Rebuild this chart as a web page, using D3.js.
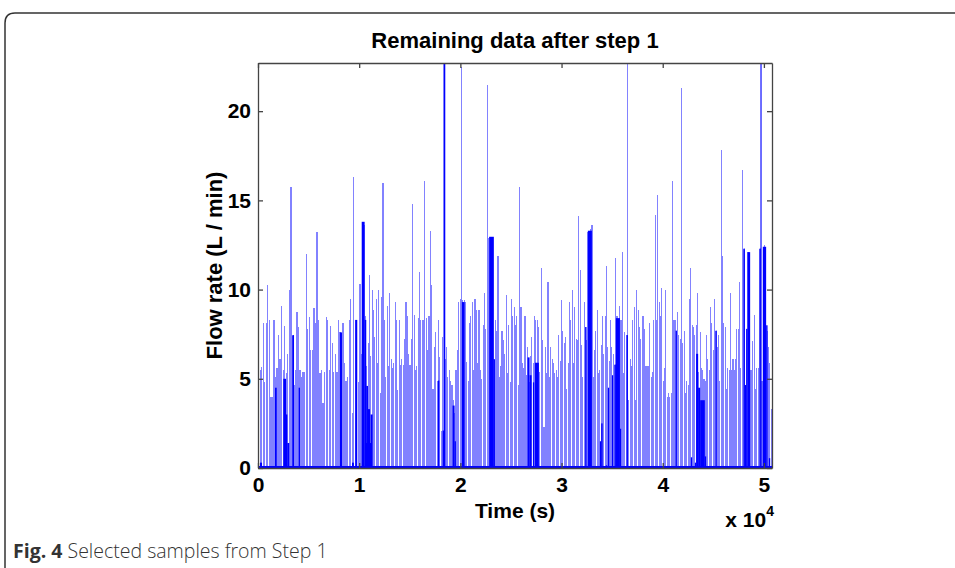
<!DOCTYPE html>
<html>
<head>
<meta charset="utf-8">
<script src="https://cdn.jsdelivr.net/npm/d3@7/dist/d3.min.js"></script>
<style>
  body { margin: 0; background: #fff; }
  svg { display: block; }
</style>
</head>
<body>
<div id="chart"></div>
<script>
// each block covers blockSpan seconds, samples spread evenly inside it
var blockSpan = 10160;
var flowBlock1 = [8.5, 5.5, 5.65, 8.1, 4.8, 8.1, 10.25, 8.3, 4.0, 4.0, 8.3, 5.1, 5.6, 7.45, 6.1, 9.1, 5.5, 7.95, 5.3, 6.4,
  10.0, 15.75, 7.4, 4.65, 5.5, 8.75, 7.9, 5.5, 5.1, 5.4, 5.4, 12.0, 7.8, 8.45, 6.6, 6.6, 8.95, 8.1, 13.2, 8.3,
  5.3, 5.5, 3.65, 5.4, 8.45, 8.3, 5.5, 7.95, 7.0, 5.4, 6.4, 5.4, 8.3, 7.6, 6.1, 8.1, 5.9, 4.9, 5.1, 8.3,
  9.5, 3.1, 16.3, 8.3, 5.6, 4.8, 10.3];
var flowBlock2 = [6.4, 13.8, 13.6, 8.5, 5.7, 7.0, 10.8, 6.3, 10.0, 8.85, 7.35, 9.5, 5.9, 10.0, 4.2, 9.6, 15.95, 8.3, 5.1, 9.1,
  5.7, 9.8, 6.1, 5.6, 5.9, 9.3, 8.3, 4.35, 8.3, 5.8, 6.1, 5.8, 7.25, 9.3, 8.5, 6.4, 5.8, 7.25, 14.8, 8.6,
  5.5, 5.7, 8.4, 11.0, 8.3, 8.3, 8.3, 16.1, 8.4, 6.6, 8.5, 13.3, 10.25, 4.45, 6.8, 7.6, 4.9, 8.3, 6.2, 2.1,
  7.35, 24, 6.1, 6.8, 5.1, 5.5, 4.85, 4.65, 3.8, 3.1, 5.5, 6.6, 9.3, 9.5, 22.5, 9.4];
var flowBlock3 = [9.4, 9.3, 5.95, 4.9, 8.1, 8.5, 9.3, 5.5, 9.5, 8.85, 5.9, 8.85, 5.5, 5.0, 8.0, 9.8, 7.8, 21.45, 12.9, 12.96,
  12.96, 12.96, 6.1, 8.3, 7.7, 11.9, 5.1, 5.7, 7.7, 7.2, 6.4, 9.7, 5.3, 8.0, 4.8, 9.5, 8.5, 9.0, 8.0, 8.5,
  4.65, 15.75, 9.0, 5.9, 5.6, 8.5, 5.2, 6.8, 4.8, 6.3, 7.35, 5.9, 8.5, 8.3, 8.3, 7.9, 5.4, 11.2, 7.2, 2.3,
  6.8, 5.3, 10.4, 5.1, 6.8, 6.1, 5.9, 5.3, 5.5, 5.1, 7.45, 6.0, 9.4, 7.7, 7.0, 7.35];
var flowBlock4 = [4.45, 5.9, 9.3, 8.3, 10.0, 5.9, 9.0, 7.25, 7.2, 14.1, 11.1, 6.9, 5.1, 9.3, 7.9, 7.2, 13.24, 13.24, 13.4, 13.6,
  5.1, 6.6, 7.7, 8.85, 5.3, 5.5, 6.9, 8.5, 6.4, 8.5, 11.3, 6.8, 6.0, 8.3, 6.8, 6.4, 5.8, 11.75, 8.5, 8.1,
  9.1, 8.3, 12.1, 5.3, 7.6, 7.45, 24, 3.8, 6.1, 5.7, 8.3, 9.0, 3.8, 10.0, 8.85, 7.9, 7.25, 8.5, 8.5, 7.8,
  5.7, 5.7, 5.7, 8.1, 5.1, 5.4, 8.3, 14.2, 8.3, 15.3, 9.3, 8.5, 10.1, 4.85, 5.6, 10.0, 4.0, 4.2];
var flowBlock5 = [4.0, 4.2, 16.1, 8.3, 8.3, 7.7, 8.75, 7.45, 7.25, 21.3, 7.0, 7.7, 4.2, 4.9, 4.65, 9.5, 11.2, 8.0, 7.9, 7.45,
  8.0, 9.8, 5.4, 7.6, 5.6, 5.5, 5.0, 4.9, 7.45, 6.1, 5.5, 9.0, 8.1, 6.6, 9.5, 7.7, 6.8, 7.45, 4.9, 17.8,
  11.9, 8.1, 7.9, 4.45, 5.6, 5.5, 9.8, 5.5, 6.1, 5.5, 6.1, 7.8, 7.8, 10.4, 5.6, 16.7, 12.3, 12.2, 7.8, 12.1,
  12.1, 5.5, 5.5, 7.1, 8.6, 4.45, 5.6, 5.6, 12.3, 24, 4.85, 12.4, 12.5, 8.0, 7.7, 6.8, 5.9, 3.3];

// dense stretches that print as solid blue (start s, end s, level)
var darkStart = [200, 1680, 2500, 2700, 2900, 3390, 4020, 8100, 9290, 9610, 10250, 10540, 10700, 10570, 10870, 11130,
  17780, 18250, 18380, 19230, 19430, 20150,
  22850, 23310, 26640, 26840, 27170, 27370,
  32340, 32600, 33790, 33920, 34380, 34580, 34980, 35240, 35370, 35770, 36430,
  41270, 42780, 43180, 43300, 43500, 43700, 44160, 45220, 47990, 48120, 48250, 48380, 49570, 49700, 49890, 50220, 50490];
var darkEnd = [400, 1850, 2770, 2900, 3090, 3560, 4150, 8300, 9480, 9810, 10540, 10700, 10870, 11230, 11070, 11330,
  17920, 18380, 18510, 19430, 19560, 20420,
  23310, 23420, 26840, 27040, 27300, 27760,
  32470, 33000, 33920, 34060, 34510, 34710, 35100, 35370, 35770, 35890, 36560,
  41400, 42910, 43300, 43500, 43700, 44160, 44290, 45350, 48120, 48250, 48380, 48640, 49700, 49770, 50220, 50360, 50620];
var darkValues = [0.3, 4.5, 5.0, 3.0, 1.4, 7.45, 4.5, 7.6, 0.3, 8.3, 13.8, 8.3, 4.6, 1.4, 3.3, 3.0,
  4.9, 2.1, 24, 3.5, 1.5, 9.3,
  12.96, 6.1, 6.2, 5.2, 4.8, 5.9,
  7.9, 13.3, 1.5, 2.5, 0.15, 4.5, 5.2, 5.8, 8.4, 2.2, 7.45,
  7.7, 0.6, 0.3, 6.4, 4.5, 3.8, 0.65, 7.7, 12.3, 4.65, 7.8, 12.1, 12.3, 24, 12.4, 8.0, 0.55];

var xTicks = [0, 1, 2, 3, 4, 5];   // in units of 10^4 s
var yTicks = [0, 5, 10, 15, 20];

var width = 955, height = 568;
var plot = { left: 258, right: 772, top: 63, bottom: 468 };

var x = d3.scaleLinear().domain([0, 50800]).range([plot.left, plot.right]);
var y = d3.scaleLinear().domain([0, 22.7]).range([plot.bottom, plot.top]);

var svg = d3.select("#chart").append("svg")
  .attr("width", width)
  .attr("height", height)
  .style("font-family", "'Liberation Sans', Arial, sans-serif");

// page frame with rounded top-left corner
svg.append("path")
  .attr("d", "M5,568 L5,23 Q5,13 15,13 L955,13")
  .attr("fill", "none")
  .attr("stroke", "#333")
  .attr("stroke-width", 1.5);

svg.append("defs").append("clipPath").attr("id", "plot-clip")
  .append("rect")
  .attr("x", plot.left).attr("y", plot.top)
  .attr("width", plot.right - plot.left).attr("height", plot.bottom - plot.top);

var samples = [];
[flowBlock1, flowBlock2, flowBlock3, flowBlock4, flowBlock5].forEach(function (block, b) {
  var step = blockSpan / block.length;
  block.forEach(function (v, i) {
    samples.push({ t0: b * blockSpan + i * step, t1: b * blockSpan + (i + 1) * step, v: v });
  });
});

var dense = darkValues.map(function (v, i) {
  return { t0: darkStart[i], t1: darkEnd[i], v: v };
});

var vis = svg.append("g").attr("clip-path", "url(#plot-clip)");

vis.selectAll(".flow-bar")
  .data(samples)
  .enter()
  .append("rect")
  .attr("class", "flow-bar")
  .attr("x", function (d) { return x(d.t0); })
  .attr("width", function (d) { return Math.max(1, x(d.t1) - x(d.t0) - 0.25); })
  .attr("y", function (d) { return y(d.v); })
  .attr("height", function (d) { return y(0) - y(d.v); })
  .attr("fill", "#8282ff")
  .attr("shape-rendering", "crispEdges");

vis.selectAll(".dense-bar")
  .data(dense)
  .enter()
  .append("rect")
  .attr("class", "dense-bar")
  .attr("x", function (d) { return x(d.t0); })
  .attr("width", function (d) { return x(d.t1) - x(d.t0); })
  .attr("y", function (d) { return y(d.v); })
  .attr("height", function (d) { return y(0) - y(d.v); })
  .attr("fill", "#0000ff");

// zero samples along the floor
vis.append("line")
  .attr("x1", x(0)).attr("x2", x(50800))
  .attr("y1", y(0) - 1).attr("y2", y(0) - 1)
  .attr("stroke", "#0000ff")
  .attr("stroke-width", 2);

// axes, MATLAB style: box with inward ticks
var axisColor = "#444";
var fmt = function (d) { return d / 1e4; };

var gBottom = svg.append("g").attr("transform", "translate(0," + plot.bottom + ")")
  .call(d3.axisBottom(x).tickValues(xTicks.map(function (d) { return d * 1e4; }))
    .tickFormat(fmt).tickSizeInner(-5).tickSizeOuter(0).tickPadding(9));
var gTop = svg.append("g").attr("transform", "translate(0," + plot.top + ")")
  .call(d3.axisTop(x).tickValues(xTicks.map(function (d) { return d * 1e4; }))
    .tickFormat("").tickSizeInner(-5).tickSizeOuter(0));
var gLeft = svg.append("g").attr("transform", "translate(" + plot.left + ",0)")
  .call(d3.axisLeft(y).tickValues(yTicks).tickSizeInner(-5).tickSizeOuter(0).tickPadding(7));
var gRight = svg.append("g").attr("transform", "translate(" + plot.right + ",0)")
  .call(d3.axisRight(y).tickValues(yTicks).tickFormat("").tickSizeInner(-5).tickSizeOuter(0));

[gBottom, gTop, gLeft, gRight].forEach(function (g) {
  g.selectAll("path.domain").attr("stroke", axisColor).attr("stroke-width", 1.3);
  g.selectAll(".tick line").attr("stroke", axisColor).attr("stroke-width", 1.3);
  g.selectAll(".tick text")
    .attr("fill", "#000")
    .style("font-size", "21px")
    .style("font-weight", "bold")
    .style("font-family", "'Liberation Sans', Arial, sans-serif");
});

svg.append("text")
  .attr("x", (plot.left + plot.right) / 2)
  .attr("y", 48)
  .attr("text-anchor", "middle")
  .style("font-size", "22px")
  .style("font-weight", "bold")
  .text("Remaining data after step 1");

svg.append("text")
  .attr("x", (plot.left + plot.right) / 2)
  .attr("y", 518)
  .attr("text-anchor", "middle")
  .style("font-size", "21px")
  .style("font-weight", "bold")
  .text("Time (s)");

svg.append("text")
  .attr("transform", "translate(222," + ((plot.top + plot.bottom) / 2) + ") rotate(-90)")
  .attr("text-anchor", "middle")
  .style("font-size", "22px")
  .style("font-weight", "bold")
  .text("Flow rate (L / min)");

var expo = svg.append("text")
  .attr("x", 774)
  .attr("y", 527)
  .attr("text-anchor", "end")
  .style("font-size", "21px")
  .style("font-weight", "bold");
expo.append("tspan").text("x 10");
expo.append("tspan").attr("dy", -11).style("font-size", "14px").text("4");

var caption = svg.append("text")
  .attr("x", 13)
  .attr("y", 558)
  .style("font-family", "'Open Sans', sans-serif")
  .style("font-size", "19.5px")
  .attr("fill", "#333");
caption.append("tspan").style("font-weight", "bold").text("Fig. 4");
caption.append("tspan").style("font-weight", "300").text(" Selected samples from Step 1");
</script>
</body>
</html>
